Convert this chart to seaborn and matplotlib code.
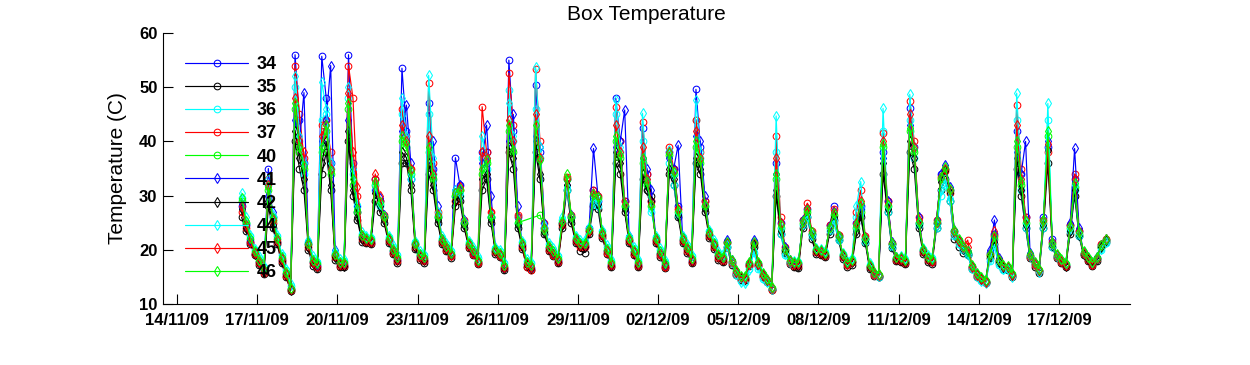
import numpy as np
import pandas as pd
import matplotlib
matplotlib.use("Agg")
import matplotlib.pyplot as plt
import matplotlib.dates as mdates
import seaborn as sns

# ---------------- data (4-hourly samples, 16/11/09 10:00 -> 18/12/09 18:00) ----------------
start_time = "2009-11-16 10:00"
end_time = "2009-12-18 18:00"
nan = np.nan

s34 = [
    28, 24.5, 21.5, 19.2,
    17.8, 16, 35, 26, 21.5, 18.2,
    15.5, 12.8, 56, 44, 36, 21,
    17.8, 17, 55.7, 48, 36, 19,
    17.3, 17.2, 56, 36, 27, 22.3,
    21.8, 21.5, 33, 29, 26, 21.8,
    19.8, 18.2, 53.5, 42, 33, 21,
    18.8, 18.2, 47, 35, 26, 21.6,
    20.3, 19, 37, 32, 25, 20.8,
    19.5, 17.8, 38, 38, 26, 19.8,
    19.1, 16.7, 55, 42, 26, 20.8,
    17.3, 16.7, 50.4, 38, 24, 20.3,
    19.3, 18, 25, 33, 26, 21.8,
    20.8, 20.7, 24, 31, 29, 22.8,
    19.8, 17.2, 48, 40, 29, 21.8,
    19.6, 17.2, 42.4, 34, 29, 21.8,
    19.3, 17, 38, 35, 28, 21.8,
    20.1, 18, 49.6, 39, 29, 22.8,
    20.8, 18.8, 18.3, 21.5, 17.8, 15.8,
    14.8, 14.8, 17.3, 21.5, 17.3, 15.3,
    14.3, 12.8, 36, 25, 20, 17.8,
    17.3, 17.3, 25.5, 27.5, 23, 19.8,
    19.5, 19, 24.5, 28, 22.5, 18.8,
    17.3, 17.8, 25, 28, 22, 16.8,
    15.5, 15.2, 38, 29, 21, 18.3,
    18.2, 17.8, 46.1, 39, 25, 19.8,
    18.3, 17.8, 25, 34, 35, 31,
    23.5, 21.6, 20.3, 19.3, 16.8, 15.3,
    14.6, 14, 19.5, 23, 18, 16.8,
    16.7, 15.3, 42, 34, 26, 18.8,
    17.3, 16, 26, 39, 22, 18.8,
    17.9, 17, 24.5, 33, 23.5, 19.3,
    18.3, 17.3, 18.5, 20.8, 21.8,
]

s35 = [
    26, 23.5, 21, 19,
    17.2, 15.5, 28, 24, 21, 17.5,
    15, 12.4, 40, 35, 31, 20,
    17, 16.5, 34, 38, 31, 18.2,
    16.8, 16.8, 40, 30, 25.5, 21.5,
    21.2, 21, 29, 27, 25, 21.2,
    19.2, 17.5, 36, 36, 31, 20.2,
    18.2, 17.6, 34, 31, 25, 21,
    19.8, 18.5, 28, 29, 24, 20.3,
    19, 17.3, 31, 33, 25, 19.3,
    18.6, 16.2, 38, 35, 24, 20.2,
    16.8, 16.2, 38, 33, 23, 19.8,
    18.8, 17.6, 24, 31, 25, 21.2,
    19.8, 19.5, 23, 28, 27.5, 22.2,
    19.2, 16.8, 36, 34, 27, 21.2,
    19, 16.8, 33, 31, 30, 21.2,
    18.7, 16.6, 34, 32, 26, 21.2,
    19.5, 17.6, 36, 34, 27, 22.2,
    20.2, 18.2, 17.8, 20.5, 17.2, 15.3,
    14.5, 14.4, 17, 20.5, 17, 15,
    14, 12.5, 30, 23, 19.5, 17.3,
    16.8, 16.6, 24, 26, 22, 19.2,
    19, 18.6, 23, 25.5, 21.8, 18.3,
    16.8, 17.2, 23, 26, 21.3, 16.4,
    15.2, 14.9, 34, 27, 20.3, 18,
    17.7, 17.3, 38, 35, 24, 19.3,
    17.8, 17.4, 24, 31, 33, 29,
    22, 20.5, 19.5, 19, 16.5, 15,
    14.4, 13.9, 18.5, 21, 17.5, 16.5,
    16.3, 15, 35, 30, 24, 18.4,
    16.9, 15.7, 24, 36, 20.5, 18.4,
    17.5, 16.8, 23, 30, 22.5, 19,
    18, 17, 18, 20.5, 21.5,
]

s36 = [
    29.5, 25, 22.5, 20,
    18.5, 16.8, 32, 26, 22.5, 19,
    16.2, 13.4, 50, 40, 34, 21.5,
    18.5, 17.8, 44, 45, 35, 19.5,
    18, 18, 48, 34, 28, 23,
    22.4, 22.2, 31, 28, 26, 22.4,
    20.5, 19, 45, 40, 33, 21.5,
    19.5, 19, 45, 34, 26.5, 22.2,
    21, 19.8, 30, 30, 25, 21.4,
    20.2, 18.5, 37, 35, 26, 20.4,
    19.8, 17.5, 49.5, 40, 25, 21.4,
    18, 17.5, 46, 37, 24, 21,
    20, 18.8, 25.5, 31, 26, 22.4,
    21.5, 21.5, 23.5, 28.5, 28, 23.4,
    20.5, 18, 45, 38, 28, 22.4,
    20.3, 18, 40, 32, 27, 22.4,
    20, 17.8, 36, 32, 26.5, 22.4,
    20.8, 18.8, 44, 37, 28, 23.4,
    21.5, 19.5, 18.8, 20.5, 17.6, 15.4,
    14.2, 14, 16.5, 19.5, 16.5, 14.6,
    14, 12.8, 38, 23, 19, 17.6,
    17.8, 17.8, 24.5, 26, 22.5, 20.2,
    20, 19.6, 23.5, 25, 21.8, 19.2,
    17.8, 18.3, 26, 27.5, 21.5, 17.2,
    15.5, 15, 42, 27, 20.5, 18.4,
    18.6, 18.2, 44, 37, 24.5, 20.2,
    18.8, 18.4, 24, 30, 32, 29,
    22.5, 21, 20, 19, 16.5, 15,
    14.2, 13.8, 18, 20.5, 17.2, 16.3,
    16.5, 15.2, 44, 31, 24, 18.6,
    17.4, 16, 24, 44, 20.5, 18.7,
    18, 17.2, 23.5, 31, 22.5, 19.4,
    18.5, 17.5, 18.3, 20, 21.2,
]

s37 = [
    27, 24, 21.5, 19.3,
    17.5, 15.8, 33, 25, 21.5, 18,
    15.2, 12.6, 54, 45, 37, 20.5,
    17.5, 16.8, 43, 44, 38, 18.6,
    17, 17, 54, 48, 30, 22,
    21.5, 21.3, 33, 29, 26.5, 21.6,
    19.5, 18, 46, 41, 35, 20.6,
    18.5, 18, 50.7, 36, 27, 21.4,
    20, 18.8, 29, 31, 25.5, 20.6,
    19.2, 17.5, 46.4, 38, 27, 19.6,
    18.8, 16.6, 52.6, 43, 26.5, 20.6,
    16.8, 16.3, 53.3, 40, 25, 20,
    19, 17.8, 24.5, 33.5, 26.5, 21.6,
    20.5, 20.5, 23.5, 31, 30, 22.6,
    19.5, 17, 46.4, 40, 29, 21.6,
    19.3, 17, 43.6, 34, 29, 21.6,
    19, 16.8, 39, 35, 27.5, 21.6,
    19.8, 17.8, 44, 38, 29, 22.6,
    20.5, 18.5, 18, 21.5, 17.6, 15.6,
    14.7, 14.6, 17.2, 21.3, 17.2, 15.2,
    14.2, 12.6, 41, 26, 20.5, 17.6,
    17, 17, 25.5, 28.6, 23.5, 19.6,
    19.3, 18.9, 24.5, 27.5, 22.8, 18.7,
    17.2, 17.7, 27, 31, 22.5, 16.8,
    15.4, 15.1, 41.5, 29, 21.3, 18.2,
    18, 17.6, 47.5, 40, 26, 19.6,
    18.2, 17.8, 25.5, 33.5, 34.5, 30.5,
    23, 21.5, 20.5, 21.8, 16.8, 15.2,
    14.6, 14, 19, 22.5, 18.2, 16.8,
    16.6, 15.2, 46.7, 35, 26, 18.7,
    17.2, 16, 25.5, 38, 21.5, 18.7,
    17.8, 17, 24.5, 34, 23.5, 19.3,
    18.2, 17.2, 18.3, 21, 22,
]

s40 = [
    29, 25, 22, 19.6,
    18, 16.3, 31, 25.5, 22, 18.5,
    15.7, 12.8, 46, 38, 35, 21,
    18, 17.3, 38, 42, 34, 19,
    17.5, 17.5, 46, 32, 27, 22.5,
    22, 21.8, 32, 28.5, 26, 22,
    20, 18.5, 40, 39, 34, 21,
    19, 18.5, 38, 33, 26, 21.8,
    20.5, 19.3, 30, 31, 25, 21,
    19.7, 18, 34, 36, 26, 20,
    19.3, 17, 42, 38, 25, nan,
    nan, nan, nan, 26.4, 23.5, 20.5,
    19.5, 18.3, 25, 33, 26, 22,
    21, 21, 23.7, 30, 29.5, 23,
    20, 17.5, 40, 37, 28, 22,
    19.8, 17.5, 36, 32, 28, 22,
    19.5, 17.3, 37.5, 34, 27, 22,
    20.3, 18.3, 39, 36, 28, 23,
    21, 19, 18.5, 21.2, 18, 16,
    15, 15, 17.5, 21, 17.5, 15.5,
    14.5, 13, 33, 24, 20, 18,
    17.5, 17.5, 25, 27, 23, 20,
    19.7, 19.3, 24, 26.5, 22.4, 19,
    17.5, 18, 24, 27, 22, 17,
    15.7, 15.4, 39, 28, 21, 18.5,
    18.4, 18, 42, 38, 25, 20,
    18.5, 18.1, 25, 33, 35, 31,
    23.5, 21.8, 20.5, 19.5, 17, 15.5,
    14.8, 14.2, 19, 22, 18, 17,
    16.9, 15.5, 39, 32, 25, 19,
    17.5, 16.3, 25, 41, 21, 19,
    18.1, 17.3, 24, 31.6, 23, 19.5,
    18.5, 17.5, 18.5, 20.5, 21.8,
]

s41 = [
    28.5, 24.5, 21.8, 19.4,
    18, 16.2, 30, 27, 22, 18.4,
    15.6, 12.8, 44, 40, 49, 21.5,
    18, 17.2, 40, 44, 54, 20,
    17.5, 17.4, 44, 35, 28, 22.5,
    22, 21.7, 31, 29.5, 26.5, 22,
    20, 18.4, 42, 46.7, 36, 21.3,
    19, 18.4, 37, 40, 28, 22,
    20.5, 19.2, 31, 32, 25.5, 21,
    19.7, 17.9, 36, 43, 30, 20.2,
    19.3, 16.9, 40, 45, 28, 21,
    17.5, 17, 41, 39, 25, 20.6,
    19.5, 18.2, 25, 32, 26.5, 22,
    21, 20.9, 24, 38.7, 30, 23.2,
    20, 17.4, 39, 40, 45.8, 22.5,
    19.8, 17.4, 37, 35, 31, 22.2,
    19.5, 17.2, 37, 35, 39.3, 22.4,
    20.3, 18.2, 41, 40, 30, 23.2,
    21, 19, 18.5, 21.8, 18.2, 16.1,
    15, 15, 17.6, 21.8, 17.6, 15.5,
    14.5, 13, 34, 25, 20.5, 18.1,
    17.5, 17.4, 25.5, 27.5, 23.3, 20,
    19.7, 19.2, 24.3, 27, 22.6, 19,
    17.5, 17.9, 24.5, 27.5, 22.3, 17,
    15.7, 15.4, 37, 29, 21.5, 18.6,
    18.4, 18, 43, 39, 26, 20.2,
    18.5, 18.1, 25.5, 34, 35.6, 31.5,
    23.7, 21.8, 20.6, 19.7, 17.1, 15.5,
    14.8, 14.2, 20, 25.5, 18.5, 17.1,
    16.9, 15.5, 38, 34, 40, 19.5,
    17.5, 16.3, 25.5, 40, 21.5, 19.1,
    18.1, 17.3, 25, 38.7, 24, 19.6,
    18.5, 17.5, 18.6, 20.8, 22,
]

s42 = [
    27.5, 24, 21.4, 19.2,
    17.6, 15.9, 29, 24.5, 21.5, 18,
    15.4, 12.6, 42, 37, 33, 20.6,
    17.6, 16.9, 36, 40, 32, 18.6,
    17.2, 17.1, 42, 31, 26, 22,
    21.7, 21.5, 30.5, 28, 25.5, 21.7,
    19.6, 18.1, 38, 37, 32, 20.6,
    18.7, 18.1, 36, 32, 25.5, 21.4,
    20.2, 19, 29, 30, 24.5, 20.7,
    19.4, 17.7, 33, 34, 25.5, 19.7,
    19, 16.7, 39, 37, 24.5, 20.7,
    17.2, 16.7, 40, 34, 23.2, 20.2,
    19.2, 18, 24.5, 32, 25.5, 21.7,
    20.7, 20.6, 23.2, 29, 28.5, 22.7,
    19.7, 17.2, 38, 36, 27.5, 21.7,
    19.5, 17.2, 34, 31, 29, 21.7,
    19.2, 17, 35, 33, 26.5, 21.7,
    20, 18, 37, 35, 27.5, 22.7,
    20.7, 18.7, 18.2, 21, 17.7, 15.7,
    14.8, 14.7, 17.3, 20.8, 17.3, 15.3,
    14.3, 12.8, 31, 23.5, 19.7, 17.7,
    17.2, 17.1, 24.5, 26.5, 22.6, 19.7,
    19.4, 19, 23.6, 26, 22, 18.8,
    17.3, 17.7, 23.5, 26.5, 21.7, 16.8,
    15.5, 15.2, 36, 27.5, 20.7, 18.3,
    18.2, 17.8, 40, 37, 24.5, 19.8,
    18.3, 17.9, 24.5, 32.5, 34.5, 30.5,
    23, 21.4, 20.2, 19.3, 16.8, 15.3,
    14.6, 14.1, 18.8, 21.5, 17.8, 16.8,
    16.7, 15.3, 37, 31, 24.5, 18.8,
    17.3, 16.1, 24.5, 38.5, 20.8, 18.8,
    17.9, 17.1, 23.5, 31, 22.8, 19.3,
    18.3, 17.3, 18.3, 20.5, 21.6,
]

s44 = [
    30.5, 26, 22.8, 20.2,
    18.8, 17, 33, 26.5, 22.8, 19.2,
    16.5, 13.6, 52, 41, 36, 21.8,
    18.8, 18, 51, 46, 36, 19.8,
    18.3, 18.3, 50, 35, 28.5, 23.2,
    22.6, 22.4, 32, 28.5, 26.3, 22.6,
    20.8, 19.3, 48, 41, 34, 21.7,
    19.8, 19.3, 52.2, 37, 27, 22.5,
    21.2, 20, 31, 30.5, 25.3, 21.6,
    20.5, 18.8, 41, 37, 26.5, 20.6,
    20, 17.8, 47, 41, 26, 21.7,
    18.3, 17.8, 53.7, 39, 24.5, 21.2,
    20.3, 19, 26, 31.5, 26.3, 22.6,
    21.8, 21.8, 24.2, 29, 29, 23.6,
    20.8, 18.3, 47.6, 39, 28.5, 22.6,
    20.6, 18.3, 45.2, 33, 27.5, 22.6,
    20.3, 18.1, 38.5, 34, 27, 22.6,
    21.1, 19.1, 47.6, 38, 28.5, 23.6,
    21.8, 19.8, 19.2, 20.8, 17.8, 15.6,
    14, 13.8, 16.2, 19.8, 16.8, 14.8,
    14, 12.7, 44.7, 24, 19.2, 17.7,
    18, 18, 24.8, 26.3, 22.8, 20.4,
    20.2, 19.8, 23.8, 25.5, 22, 19.4,
    18, 18.5, 28, 32.6, 22, 17.5,
    15.6, 15.1, 46.1, 28, 20.8, 18.6,
    18.8, 18.4, 48.7, 39, 25, 20.4,
    19, 18.6, 24.5, 31, 33, 29.5,
    23, 21.3, 20.3, 19.2, 16.6, 15.1,
    14.3, 13.8, 18.3, 21, 17.4, 16.5,
    16.5, 15, 48.9, 33, 25, 18.8,
    17.3, 15.9, 25, 47, 21, 18.8,
    18.2, 17.4, 24, 32, 23, 19.5,
    18.6, 17.6, 18.4, 20.2, 21.5,
]

s45 = [
    28, 24.5, 21.5, 19.4,
    17.8, 16, 32, 25.5, 21.8, 18.3,
    15.5, 12.7, 48, 40, 38, 21,
    17.8, 17.1, 41, 43, 35, 19,
    17.3, 17.3, 49, 38, 31.6, 22.5,
    21.8, 21.6, 34, 30, 26, 21.9,
    19.8, 18.3, 43, 40, 35, 21,
    18.8, 18.3, 41, 34, 26.5, 21.7,
    20.3, 19.1, 30.5, 31.5, 25.2, 20.9,
    19.5, 17.8, 38, 37, 27, 19.9,
    19.1, 16.8, 44, 40, 26, 21,
    17.3, 16.8, 45, 37, 24, 20.4,
    19.3, 18.1, 25, 33, 26.2, 21.9,
    20.8, 20.8, 23.5, 30.5, 30, 23,
    19.8, 17.3, 43, 38, 28.5, 21.9,
    19.6, 17.3, 39, 33, 28.5, 21.9,
    19.3, 17.1, 38, 34.5, 27.5, 21.9,
    20.1, 18.1, 42, 37, 28.5, 22.9,
    20.8, 18.8, 18.3, 21.3, 17.9, 15.9,
    14.9, 14.8, 17.4, 21.2, 17.4, 15.4,
    14.4, 12.9, 37, 25, 20.2, 17.9,
    17.3, 17.3, 25.2, 27.8, 23.3, 19.9,
    19.6, 19.2, 24.2, 27, 22.6, 19,
    17.4, 17.9, 25, 29, 22.3, 17,
    15.6, 15.3, 40, 28.5, 21.2, 18.4,
    18.3, 17.9, 45, 39, 25.5, 20,
    18.4, 18, 25.2, 33.5, 35, 31,
    23.4, 21.7, 20.6, 20.5, 16.9, 15.4,
    14.7, 14.1, 19.2, 23.5, 18.2, 17,
    16.8, 15.4, 43, 33, 25.5, 19,
    17.4, 16.2, 25.3, 39.5, 21.3, 19,
    18, 17.2, 24.3, 33, 23.3, 19.4,
    18.4, 17.4, 18.5, 20.8, 22,
]

s46 = [
    29.5, 25.3, 22.2, 19.8,
    18.2, 16.5, 31.5, 25.8, 22.2, 18.7,
    15.9, 13, 47, 39, 35.5, 21.2,
    18.2, 17.5, 39, 43, 34.5, 19.2,
    17.7, 17.7, 47, 33, 27.5, 22.7,
    22.2, 22, 32.5, 28.8, 26.2, 22.2,
    20.2, 18.7, 41, 39.5, 34.5, 21.2,
    19.2, 18.7, 39, 33.5, 26.2, 22,
    20.7, 19.5, 30.5, 31.3, 25.2, 21.2,
    19.9, 18.2, 35, 36.5, 26.2, 20.2,
    19.5, 17.2, 43, 38.5, 25.3, 21.2,
    17.7, 17.2, 43, 36.5, 23.8, 20.7,
    19.7, 18.5, 25.3, 34, 26.3, 22.2,
    21.2, 21.2, 23.9, 30.3, 29.8, 23.2,
    20.2, 17.7, 41, 37.5, 28.2, 22.2,
    20, 17.7, 37, 32.5, 28.3, 22.2,
    19.7, 17.5, 37.8, 34.3, 27.2, 22.2,
    20.5, 18.5, 40, 36.5, 28.2, 23.2,
    21.2, 19.2, 18.7, 21.4, 18.2, 16.2,
    15.2, 15.2, 17.7, 21.5, 17.7, 15.7,
    14.7, 13.2, 34, 24.5, 20.2, 18.2,
    17.7, 17.7, 25.3, 27.3, 23.2, 20.2,
    19.9, 19.5, 24.2, 26.8, 22.6, 19.2,
    17.7, 18.2, 24.5, 28.6, 22.2, 17.2,
    15.9, 15.6, 39.5, 28.3, 21.2, 18.7,
    18.6, 18.2, 42.5, 38.5, 25.2, 20.2,
    18.7, 18.3, 25.3, 33.5, 35.3, 31.2,
    23.7, 22, 20.7, 19.7, 17.2, 15.7,
    15, 14.4, 19.3, 22.5, 18.2, 17.2,
    17.1, 15.7, 40, 32.5, 25.3, 19.2,
    17.7, 16.5, 25.5, 42, 21.3, 19.2,
    18.3, 17.5, 24.3, 32.3, 23.3, 19.7,
    18.7, 17.7, 18.7, 20.8, 22,
]

series_labels = ["34", "35", "36", "37", "40", "41", "42", "44", "45", "46"]
series_values = [s34, s35, s36, s37, s40, s41, s42, s44, s45, s46]
series_colors = ["#0000ff", "#000000", "#00ffff", "#ff0000", "#00ff00",
                 "#0000ff", "#000000", "#00ffff", "#ff0000", "#00ff00"]
series_markers = ["o", "o", "o", "o", "o", "d", "d", "d", "d", "d"]

xtick_dates = pd.date_range("2009-11-14", "2009-12-17", freq="3D")
yticks = [10, 20, 30, 40, 50, 60]

# ---------------- plot ----------------
sns.set_style("ticks")
plt.rcParams["font.family"] = ["Liberation Sans", "DejaVu Sans"]
plt.rcParams["text.color"] = "black"
plt.rcParams["axes.labelcolor"] = "black"
plt.rcParams["xtick.color"] = "black"
plt.rcParams["ytick.color"] = "black"

times = pd.date_range(start_time, end_time, freq="4h")

fig = plt.figure(figsize=(12.5, 3.65), dpi=100)
ax = fig.add_axes([163 / 1250, 61 / 365, 967 / 1250, 271 / 365])

for lab, vals, col, mk in zip(series_labels, series_values, series_colors, series_markers):
    assert len(vals) == len(times), (lab, len(vals), len(times))
    df = pd.DataFrame({"time": times, "temp": vals}).dropna()
    ms = 4.8 if mk == "o" else 5.0
    sns.lineplot(data=df, x="time", y="temp", ax=ax, color=col, marker=mk,
                 markersize=ms, markerfacecolor="none", markeredgecolor=col,
                 markeredgewidth=0.75, linewidth=0.85, estimator=None,
                 sort=False, label=lab)

ax.set_xlim(pd.Timestamp("2009-11-13 11:26"), pd.Timestamp("2009-12-19 15:45"))
ax.set_ylim(10, 60)
ax.set_yticks(yticks)
ax.set_xticks(xtick_dates)
ax.xaxis.set_major_formatter(mdates.DateFormatter("%d/%m/%y"))
ax.xaxis.set_minor_locator(matplotlib.ticker.NullLocator())

for s in ["top", "right"]:
    ax.spines[s].set_visible(False)
for s in ["left", "bottom"]:
    ax.spines[s].set_linewidth(0.8)
    ax.spines[s].set_color("black")

ax.tick_params(direction="in", length=7, width=0.8, colors="black",
               labelsize=12)
ax.tick_params(axis="x", pad=6.5)
ax.tick_params(axis="y", pad=4)
for t in ax.get_xticklabels() + ax.get_yticklabels():
    t.set_fontweight("bold")

ax.set_xlabel("")
ax.set_ylabel("Temperature (C)", fontsize=15, labelpad=9, color="black")
ax.set_title("Box Temperature", fontsize=15, pad=9, color="black")
ax.set_facecolor("white")
ax.grid(False)

handles, labels = ax.get_legend_handles_labels()
leg = ax.legend(handles, labels, loc="upper left",
                bbox_to_anchor=(0.0228, 0.915), frameon=False,
                borderpad=0, borderaxespad=0, handlelength=3.5,
                handletextpad=0.45, labelspacing=0.34,
                prop={"family": "Liberation Sans", "weight": "bold", "size": 13})
for t in leg.get_texts():
    t.set_color("black")

fig.savefig("out.png", dpi=100, facecolor="white")
